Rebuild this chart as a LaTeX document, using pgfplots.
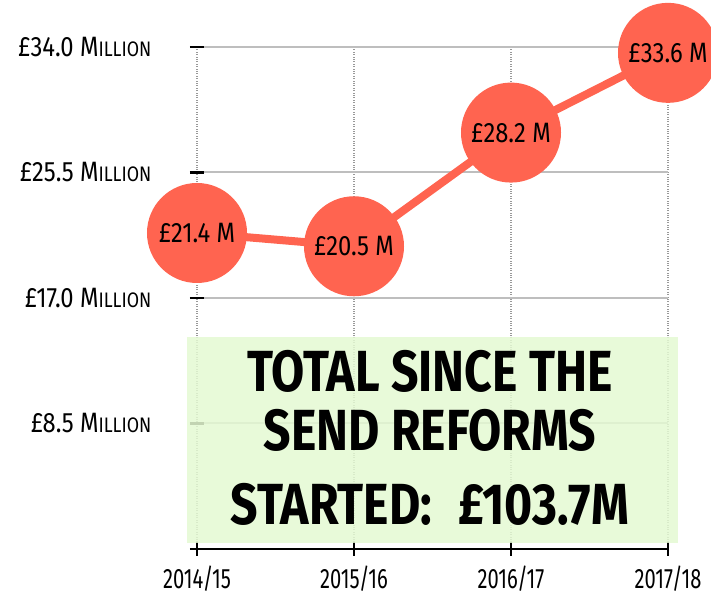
\documentclass[border=0pt]{standalone}
\usepackage{fontspec}
\setmainfont{Fira Sans}[FakeStretch=0.85]
\newfontfamily\narrowfont{Fira Sans}[FakeStretch=0.72]
\newfontfamily\boxfont{Fira Sans}[FakeStretch=0.83]
\usepackage{pgfplots}
\pgfplotsset{compat=1.18}

\definecolor{dotred}{RGB}{255,100,80}
\definecolor{boxgreen}{RGB}{228,249,210}
\definecolor{gridgray}{RGB}{190,190,190}
\newcommand\mil{M{\fontsize{21}{21}\selectfont ILLION}}

\begin{document}
\begin{tikzpicture}
\begin{axis}[
    x=157pt, y=14.765pt,
    xmin=-0.045, xmax=3, ymin=0, ymax=34,
    clip=false,
    axis x line=bottom, axis y line=left,
    axis line style={-},
    x axis line style={black, line width=2.5pt},
    y axis line style={draw=none},
    xtick={0,1,2,3},
    xticklabels={2014/15,2015/16,2016/17,2017/18},
    ytick={8.5,17,25.5,34},
    yticklabels={£8.5 \mil,£17.0 \mil,£25.5 \mil,£34.0 \mil},
    tick align=center,
    major tick length=14pt,
    xtick style={black, line width=2pt},
    ytick style={black, line width=2.5pt, xshift=7pt},
    xticklabel style={font=\narrowfont\fontsize{28}{28}\selectfont, yshift=-6pt},
    yticklabel style={anchor=east, xshift=-28pt, font=\fontsize{28}{28}\selectfont},
    xmajorgrids, ymajorgrids,
    major x grid style={gray!80, dotted, line width=2pt},
    major y grid style={gridgray, line width=2pt},
]
\fill[boxgreen, fill opacity=0.85] (axis cs:-0.064,0.4) rectangle (axis cs:3.064,14.36);
\node[font=\boxfont\bfseries\fontsize{58}{58}\selectfont] at (axis cs:1.484,12.0) {TOTAL SINCE THE};
\node[font=\boxfont\bfseries\fontsize{58}{58}\selectfont] at (axis cs:1.484,8.06) {SEND REFORMS};
\node[font=\boxfont\bfseries\fontsize{58}{58}\selectfont] at (axis cs:1.484,3.05) {STARTED:\hspace{0.45em}£103.7M};

\addplot[color=dotred, line width=8pt, mark=*, mark size=46pt,
    mark options={fill=dotred, draw=none},
    point meta=explicit symbolic, nodes near coords,
    every node near coord/.append style={black, anchor=center, font=\fontsize{28}{28}\selectfont}]
    coordinates {(0,21.4) [£21.4 M] (1,20.5) [£20.5 M] (2,28.2) [£28.2 M] (3,33.6) [£33.6 M]};

\coordinate (bb1) at (axis cs:-1.2548,-3.115);
\coordinate (bb2) at (axis cs:3.2739,37.18);
\end{axis}
\pgfresetboundingbox
\useasboundingbox (bb1) rectangle (bb2);
\end{tikzpicture}
\end{document}
